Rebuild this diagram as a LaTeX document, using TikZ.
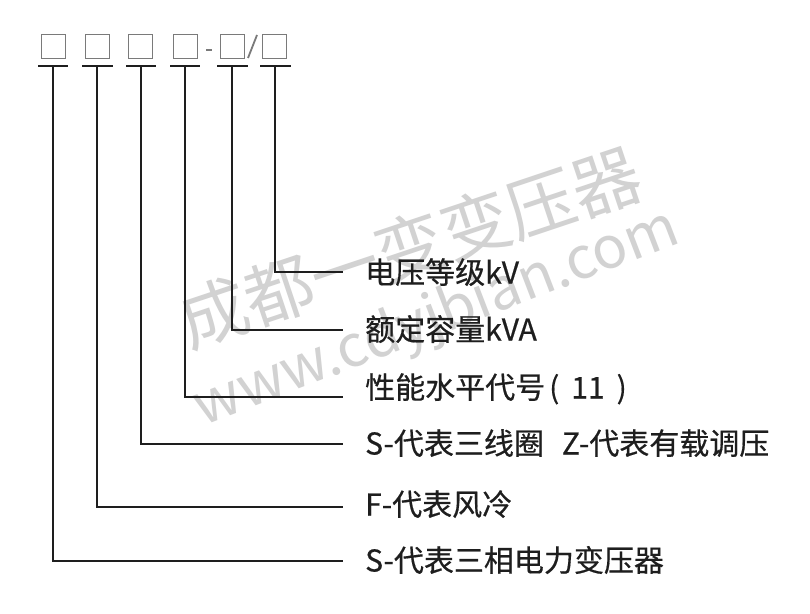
\documentclass[tikz,border=0pt]{standalone}
\usepackage{fontspec}
\setmainfont{Noto Sans CJK SC}
\newfontfamily\cjk{Noto Sans CJK SC}
\newfontfamily\cjkb[FakeBold=0.5]{Noto Sans CJK SC}
\usetikzlibrary{calc}
\definecolor{ink}{HTML}{1E1E1E}
\definecolor{boxgray}{HTML}{7A7A7A}
\definecolor{wmgray}{HTML}{D2D2D2}
\begin{document}
\begin{tikzpicture}[x=1pt,y=-1pt,
  sq/.style={draw=boxgray,line width=1.3pt,minimum size=24pt,inner sep=0pt},
  uline/.style={draw=ink,line width=2.4pt},
  conn/.style={draw=ink,line width=1.5pt},
  lbl/.style={anchor=base west,inner sep=0pt,text=ink,font=\cjkb\fontsize{30}{36}\selectfont},
  wm/.style={text=wmgray,inner sep=0pt,font=\cjk\fontsize{#1}{#1}\selectfont}]
\useasboundingbox[fill=white] (0,0) rectangle (810,613);
% watermark
\node[wm=69,rotate=18.5] (wm1) at (410,247) {成都一变变压器};
\node[wm=58,rotate=21] (wm2) at (437,319) {www.cdyjbian.com};
% boxes
\node[sq] (b1) at (53.5,46.5) {};
\node[sq] (b2) at (97.5,46.5) {};
\node[sq] (b3) at (140.5,46.5) {};
\node[sq] (b4) at (185.5,46.5) {};
\node[sq] (b5) at (232.5,46.5) {};
\node[sq] (b6) at (274.5,46.5) {};
\draw[draw=boxgray,line width=1.3pt] (206,50) -- (212,50);
\draw[draw=boxgray,line width=1.8pt] (248,58) -- (257,35);
% underlines
\draw[uline] (38,66) -- (68,66);
\draw[uline] (82,66) -- (113,66);
\draw[uline] (126,66) -- (156,66);
\draw[uline] (170,66) -- (200,66);
\draw[uline] (217,66) -- (248,66);
\draw[uline] (260,66) -- (291,66);
% connector start points
\coordinate (u1) at (53,66);
\coordinate (u2) at (97,66);
\coordinate (u3) at (141,66);
\coordinate (u4) at (185,66);
\coordinate (u5) at (232,66);
\coordinate (u6) at (275,66);
% connector end points
\coordinate (e1) at (343,272);
\coordinate (e2) at (343,330);
\coordinate (e3) at (343,397);
\coordinate (e4) at (343,444);
\coordinate (e5) at (343,507);
\coordinate (e6) at (343,561);
% labels
\node[lbl] (l1) at (365,283.5) {电压等级kV};
\node[lbl] (l2) at (365,340.5) {额定容量kVA};
\node[lbl] (l3) at (365,398.5) {性能水平代号\hspace{4pt}(\hspace{12pt}11\hspace{12pt})};
\node[lbl] (l4) at (365,454.5) {S-代表三线圈\hspace{18pt}Z-代表有载调压};
\node[lbl] (l5) at (365,515.5) {F-代表风冷};
\node[lbl] (l6) at (365,571.5) {S-代表三相电力变压器};
% connectors
\draw[conn] (u6) |- (e1);
\draw[conn] (u5) |- (e2);
\draw[conn] (u4) |- (e3);
\draw[conn] (u3) |- (e4);
\draw[conn] (u2) |- (e5);
\draw[conn] (u1) |- (e6);
\end{tikzpicture}
\end{document}
